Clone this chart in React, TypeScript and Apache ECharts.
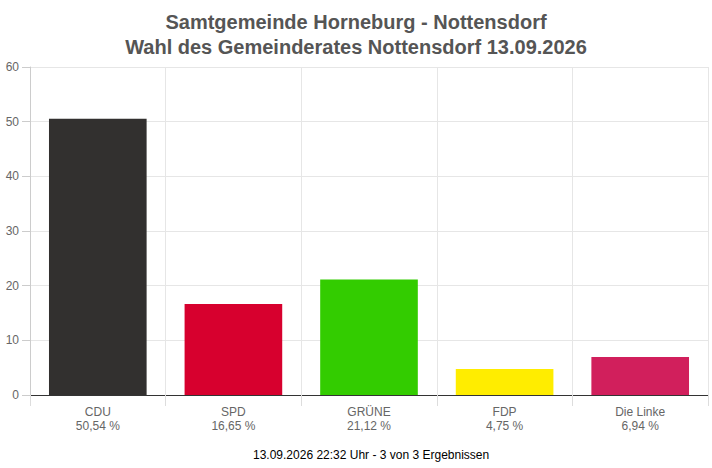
import { useEffect, useRef } from "react";
import * as echarts from "echarts";

// ── Data ──────────────────────────────────────────────────────────────────────
const PARTIES = ["CDU", "SPD", "GRÜNE", "FDP", "Die Linke"];
const SHARES = [50.54, 16.65, 21.12, 4.75, 6.94];
const COLORS = ["#32302f", "#d7002e", "#33cc00", "#ffed00", "#d11f5c"];
const Y_TICKS = [0, 10, 20, 30, 40, 50, 60];

const TITLE = "Samtgemeinde Horneburg - Nottensdorf\nWahl des Gemeinderates Nottensdorf 13.09.2026";
const FOOTER = "13.09.2026 22:32 Uhr - 3 von 3 Ergebnissen";

const FONT = "'Liberation Sans', Arial, sans-serif";
const fmtPct = (v: number) => `${v.toFixed(2).replace(".", ",")} %`;

export default function App() {
  const ref = useRef<HTMLDivElement>(null);

  useEffect(() => {
    document.body.style.margin = "0";
    const el = ref.current;
    if (!el) return;
    const chart = echarts.init(el, null, { renderer: "svg" });
    chart.setOption({
      animation: false,
      backgroundColor: "#fff",
      textStyle: { fontFamily: FONT },
      title: {
        text: TITLE,
        left: "center",
        top: 4,
        textStyle: { fontFamily: FONT, fontSize: 20, fontWeight: "bold", color: "#555", lineHeight: 25 },
      },
      grid: { left: 30, right: 4, top: 67, bottom: 73 },
      xAxis: {
        type: "category",
        data: PARTIES,
        axisLine: { lineStyle: { color: "#333", width: 1 } },
        axisTick: { show: true, length: 11, lineStyle: { color: "#ddd" } },
        splitLine: { show: true, lineStyle: { color: "#e6e6e6" } },
        axisLabel: {
          color: "#666",
          fontSize: 12,
          lineHeight: 14,
          margin: 10,
          formatter: (name: string) => `${name}\n${fmtPct(SHARES[PARTIES.indexOf(name)])}`,
        },
      },
      yAxis: {
        type: "value",
        min: Y_TICKS[0],
        max: Y_TICKS[Y_TICKS.length - 1],
        interval: 10,
        axisLine: { show: true, lineStyle: { color: "#ccc" } },
        axisTick: { show: true, length: 8, lineStyle: { color: "#ccc" } },
        splitLine: { lineStyle: { color: "#e6e6e6" } },
        axisLabel: { color: "#666", fontSize: 12, margin: 11 },
      },
      series: [
        {
          type: "bar",
          data: SHARES.map((v, i) => ({ value: v, itemStyle: { color: COLORS[i] } })),
          barCategoryGap: "28%",
        },
      ],
      graphic: [
        {
          type: "text",
          left: 253,
          top: 449,
          style: { text: FOOTER, fill: "#000", font: `12px ${FONT}` },
        },
      ],
    });
    return () => chart.dispose();
  }, []);

  return <div ref={ref} style={{ width: 712, height: 468 }} />;
}
